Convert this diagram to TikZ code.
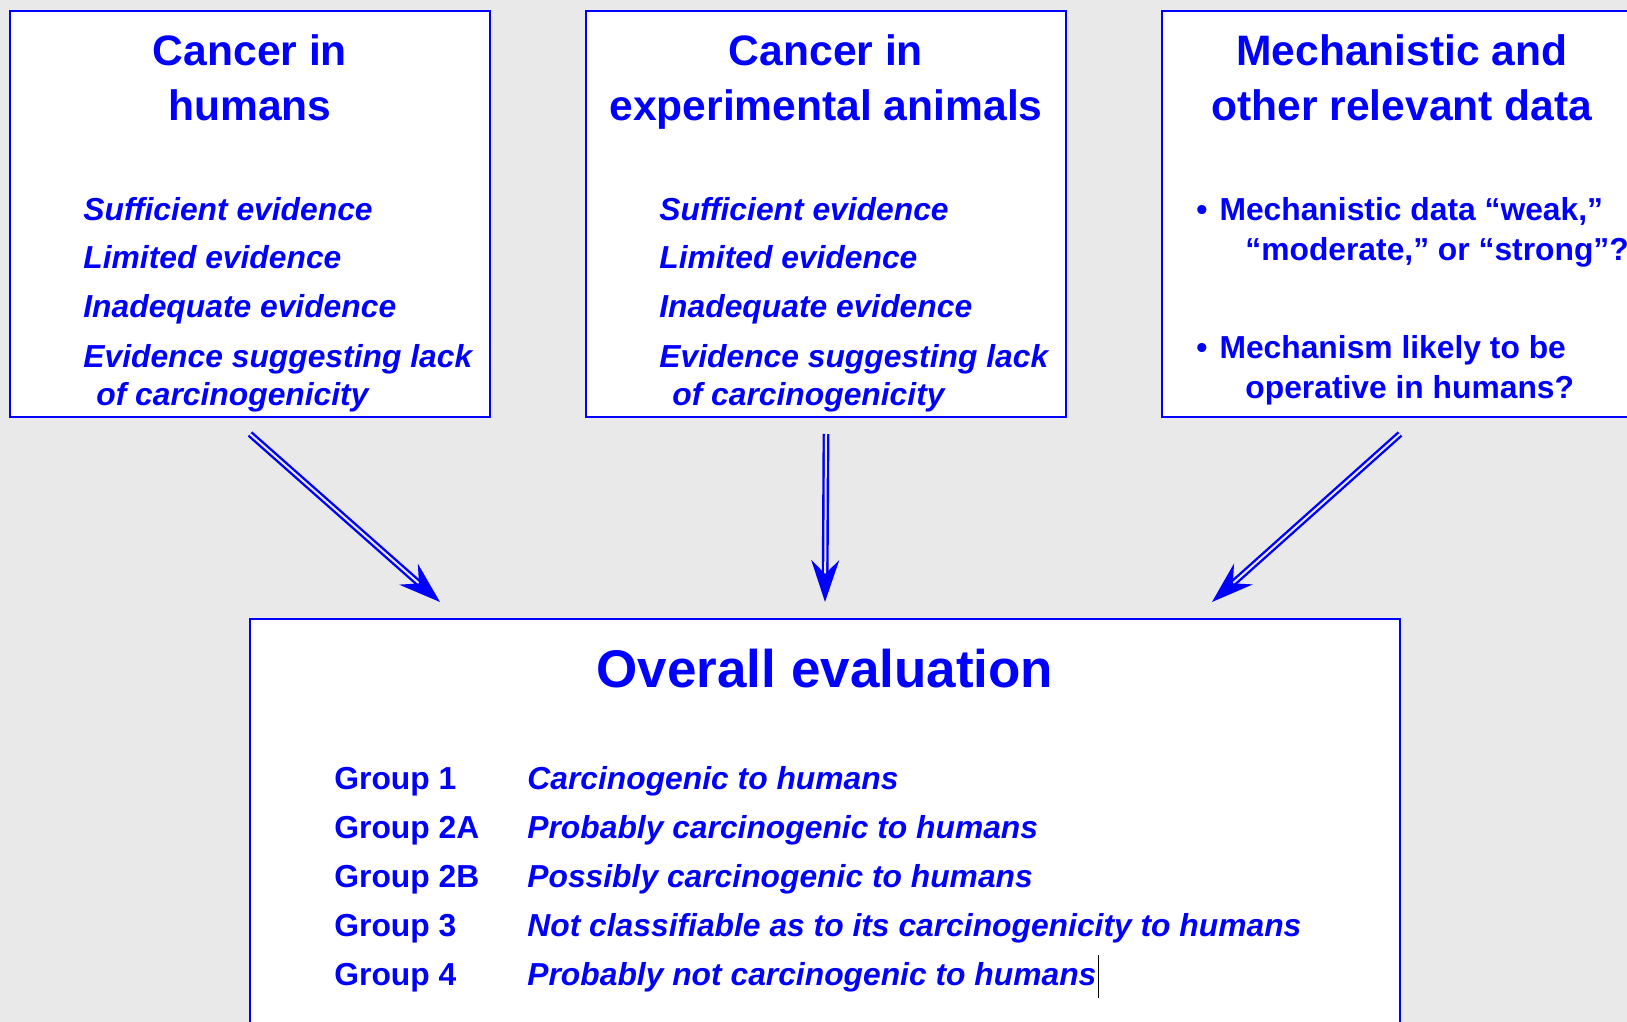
\documentclass[tikz,border=0pt]{standalone}
\usepackage{fontspec}
\setmainfont{Liberation Sans}
\usetikzlibrary{arrows.meta}
\definecolor{slidebg}{RGB}{233,233,233}

\tikzset{
  panel/.style={draw=blue, line width=1pt, fill=white, inner sep=0pt,
    minimum width=240pt, minimum height=203pt},
  head/.style={text=blue, align=center, anchor=base, inner sep=0pt,
    font=\fontsize{21.3}{27.5}\selectfont\bfseries},
  ev/.style={text=blue, align=left, anchor=base west, inner sep=0pt,
    font=\fontsize{15.9}{19}\selectfont\bfseries\itshape},
  bul/.style={text=blue, align=left, anchor=base west, inner sep=0pt,
    font=\fontsize{15.9}{20}\selectfont\bfseries},
  flow/.style={draw=blue, line width=1.2pt, double=slidebg, double distance=1pt,
    -{Stealth[length=21pt,width=14pt,inset=7pt]}}
}

\begin{document}
\begin{tikzpicture}[x=0.5pt,y=-0.5pt]
\useasboundingbox (0,0) rectangle (1627,1022);
\clip (0,0) rectangle (1627,1022);
\fill[slidebg] (0,0) rectangle (1627,1022);

% the three inputs
\node[panel] (humans) at (250,214) {};
\node[panel] (animals) at (826,214) {};
\node[panel] (mech) at (1402,214) {};
\node[head] (humanst) at (250,120) {Cancer in\\humans};
\node[head] (animalst) at (826,120) {Cancer in\\experimental animals};
\node[head] (mecht) at (1402,120) {Mechanistic and\\other relevant data};

\node[ev] (h1) at (83,220) {Sufficient evidence};
\node[ev] (h2) at (83,268) {Limited evidence};
\node[ev] (h3) at (83,317) {Inadequate evidence};
\node[ev] (h4) at (83,405) {Evidence suggesting lack\\\hspace{6.5pt}of carcinogenicity};
\node[ev] (a1) at (659,220) {Sufficient evidence};
\node[ev] (a2) at (659,268) {Limited evidence};
\node[ev] (a3) at (659,317) {Inadequate evidence};
\node[ev] (a4) at (659,405) {Evidence suggesting lack\\\hspace{6.5pt}of carcinogenicity};

\node[bul] (m1) at (1196,260) {•\hspace{6pt}Mechanistic data “weak,”\\\hspace{24.5pt}“moderate,” or “strong”?};
\node[bul] (m2) at (1196,398) {•\hspace{6pt}Mechanism likely to be\\\hspace{24.5pt}operative in humans?};

% the outcome
\node[panel, minimum width=575pt, minimum height=210.5pt] (eval) at (825,829.5) {};
\node[head, font=\fontsize{26.5}{30}\selectfont\bfseries] (evalt) at (825,687) {Overall evaluation};
\foreach \g/\d [count=\i] in {1/Carcinogenic to humans,
    2A/Probably carcinogenic to humans,
    2B/Possibly carcinogenic to humans,
    3/Not classifiable as to its carcinogenicity to humans,
    4/Probably not carcinogenic to humans}{
  \node[bul] (g\i) at (334,740+49*\i) {Group \g};
  \node[ev] (d\i) at (527,740+49*\i) {\d};
}
\draw[black, line width=0.6pt] ([xshift=1pt,yshift=15pt]d5.base east)
    -- ([xshift=1pt,yshift=-6.5pt]d5.base east);

\draw[flow] ([yshift=-8pt]humans.south) -- ([xshift=-192.5pt,yshift=8pt]eval.north);
\draw[flow] ([yshift=-8pt]animals.south) -- ([yshift=8pt]eval.north);
\draw[flow] ([xshift=-1pt,yshift=-8pt]mech.south) -- ([xshift=193.5pt,yshift=8pt]eval.north);
\end{tikzpicture}
\end{document}
